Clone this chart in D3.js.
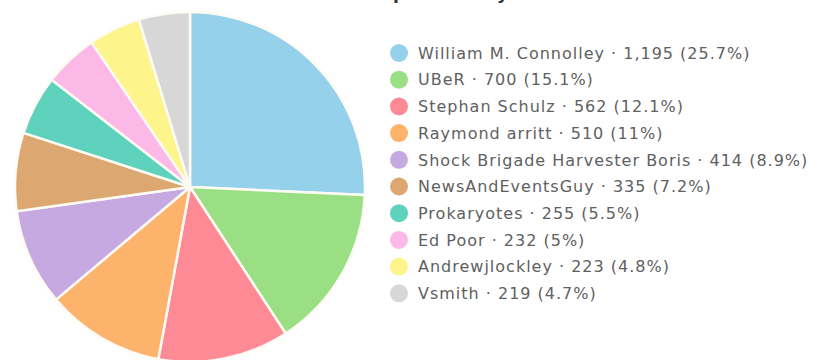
<!DOCTYPE html>
<html>
<head>
<meta charset="utf-8">
<script src="https://cdn.jsdelivr.net/npm/d3@7"></script>
<style>
  html, body { margin: 0; padding: 0; background: #fff; }
  svg { display: block; }
  text { font-family: "DejaVu Sans", Verdana, sans-serif; }
</style>
</head>
<body>
<svg id="chart" width="813" height="360"></svg>
<script>
// Top editors and their edit counts
const editors = [
  "William M. Connolley", "UBeR", "Stephan Schulz", "Raymond arritt",
  "Shock Brigade Harvester Boris", "NewsAndEventsGuy", "Prokaryotes",
  "Ed Poor", "Andrewjlockley", "Vsmith"
];
const edits = [1195, 700, 562, 510, 414, 335, 255, 232, 223, 219];
const sliceColors = [
  "#95d1ea", "#9bdf84", "#fd8a95", "#feb36d", "#c7a9e1",
  "#dca770", "#5fd2bd", "#fcb8e6", "#fdf48b", "#d7d7d7"
];
const titleText = "Top editors by edit count";

const svg = d3.select("#chart");
const total = d3.sum(edits);
const data = editors.map((name, i) => ({ name, value: edits[i], color: sliceColors[i] }));

const fmtCount = d3.format(",");
const fmtPct = v => {
  const p = Math.round(v * 1000) / 10;
  return (Number.isInteger(p) ? p.toFixed(0) : p.toFixed(1)) + "%";
};

// Pie
const cx = 190, cy = 187, radius = 175;
const pie = d3.pie().value(d => d.value).sort(null);
const arc = d3.arc().innerRadius(0).outerRadius(radius);

svg.append("g")
  .attr("transform", `translate(${cx},${cy})`)
  .selectAll("path")
  .data(pie(data))
  .join("path")
  .attr("d", arc)
  .attr("fill", d => d.data.color)
  .attr("stroke", "#fdfbf4")
  .attr("stroke-width", 2.5)
  .attr("stroke-linejoin", "round");

// Title (runs off the top edge)
svg.append("text")
  .attr("x", 372)
  .attr("y", -1)
  .attr("font-size", 17)
  .attr("font-weight", 600)
  .attr("fill", "#333")
  .text(titleText);

// Legend
const legendX = 399, legendY = 53, rowH = 26.7;
const rows = svg.append("g")
  .selectAll("g")
  .data(data)
  .join("g")
  .attr("transform", (d, i) => `translate(${legendX},${legendY + i * rowH})`);

rows.append("circle")
  .attr("r", 9)
  .attr("fill", d => d.color);

rows.append("text")
  .attr("x", 19)
  .attr("dy", "0.36em")
  .attr("font-size", 16)
  .attr("letter-spacing", 1)
  .attr("fill", "#606060")
  .text(d => `${d.name} · ${fmtCount(d.value)} (${fmtPct(d.value / total)})`);
</script>
</body>
</html>
